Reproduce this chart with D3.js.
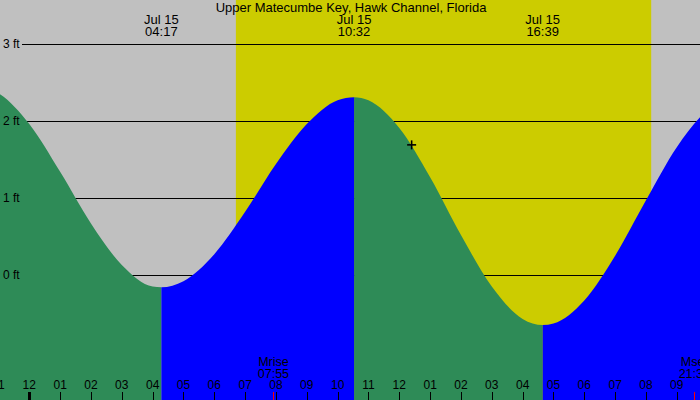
<!DOCTYPE html>
<html><head><meta charset="utf-8">
<script src="https://cdn.jsdelivr.net/npm/d3@7"></script>
<style>
html,body{margin:0;padding:0;background:#fff;}
svg{display:block;font-family:"Liberation Sans",Arial,sans-serif;}
</style></head>
<body><svg id="c" width="700" height="400"></svg>
<script>
// Hours relative to midnight, Jul 15
const title = "Upper Matecumbe Key, Hawk Channel, Florida";
const tideHours = [-1.7, -1, 0, 1, 2, 3, 4, 4.283, 5, 6, 7, 8, 9, 10, 10.533, 11, 12, 13, 14, 15, 16, 16.65, 17, 18, 19, 20, 21, 22, 22.95];
const tideFeet  = [2.45, 2.36, 1.96, 1.34, 0.67, 0.13, -0.15, -0.16, -0.08, 0.27, 0.82, 1.44, 1.96, 2.27, 2.31, 2.27, 1.91, 1.27, 0.52, -0.15, -0.57, -0.65, -0.63, -0.33, 0.25, 0.97, 1.66, 2.14, 2.30];
const extremeHours = [4.283, 10.533, 16.65];
const extremeDates = ["Jul 15", "Jul 15", "Jul 15"];
const extremeLabels = ["04:17", "10:32", "16:39"];
const fallingSpans = [[-2, 4.283], [10.533, 16.65]];
const risingSpans = [[4.283, 10.533], [16.65, 23]];
const sunrise = 6.70, sunset = 20.17;
const moonHours = [7.917, 21.567];
const moonNames = ["Mrise", "Mset"];
const moonLabels = ["07:55", "21:34"];
const hourTicks = d3.range(-1, 22);
const feetTicks = [0, 1, 2, 3];
const feetLabels = ["0 ft", "1 ft", "2 ft", "3 ft"];
const nowHour = 12.4, nowFeet = 1.69;

const W = 700, H = 400;
const svg = d3.select("#c");
const x = d3.scaleLinear().domain([0, 12]).range([29.3, 399.3]);
const y = d3.scaleLinear().domain([0, 3]).range([275, 44]);

// background night / day
svg.append("rect").attr("width", W).attr("height", H).attr("fill", "#c0c0c0");
svg.append("rect").attr("x", x(sunrise)).attr("y", 0)
  .attr("width", x(sunset) - x(sunrise)).attr("height", H).attr("fill", "#cccc00");

// grid lines
svg.append("g").selectAll("line").data(feetTicks).join("line")
  .attr("x1", 22).attr("x2", W).attr("y1", d => y(d)).attr("y2", d => y(d))
  .attr("stroke", "#000").attr("stroke-width", 1).attr("shape-rendering", "crispEdges");

const data = tideHours.map((h, i) => ({h, f: tideFeet[i]}));
const area = d3.area().x(d => x(d.h)).y0(H).y1(d => y(d.f)).curve(d3.curveMonotoneX);

const defs = svg.append("defs");
function drawSpans(spans, color, id) {
  spans.forEach((s, i) => {
    const cid = id + i;
    defs.append("clipPath").attr("id", cid).append("rect")
      .attr("x", x(s[0])).attr("y", 0).attr("width", x(s[1]) - x(s[0])).attr("height", H);
    svg.append("path").datum(data).attr("d", area).attr("fill", color)
      .attr("clip-path", `url(#${cid})`);
  });
}
drawSpans(fallingSpans, "#2e8b57", "fall");
drawSpans(risingSpans, "#0000ff", "rise");

// y labels
svg.append("g").selectAll("text").data(feetTicks).join("text")
  .attr("x", 3).attr("y", d => y(d) + 4).attr("font-size", 12).attr("fill", "#000")
  .text((d, i) => feetLabels[i]);

// title
svg.append("text").attr("x", 351).attr("y", 12).attr("text-anchor", "middle")
  .attr("font-size", 13).attr("fill", "#000").text(title);

// extreme labels
const ex = svg.append("g").selectAll("g").data(extremeHours).join("g");
ex.append("text").attr("x", d => x(d)).attr("y", 24).attr("text-anchor", "middle")
  .attr("font-size", 13).text((d, i) => extremeDates[i]);
ex.append("text").attr("x", d => x(d)).attr("y", 36).attr("text-anchor", "middle")
  .attr("font-size", 13).text((d, i) => extremeLabels[i]);

// hour axis
const fmtHour = h => { let v = ((h % 12) + 12) % 12; if (v === 0) v = 12; return d3.format("02d")(v); };
const ax = svg.append("g");
ax.selectAll("line").data(hourTicks).join("line")
  .attr("x1", d => Math.round(x(d)) + 0.5).attr("x2", d => Math.round(x(d)) + 0.5)
  .attr("y1", 392).attr("y2", H)
  .attr("stroke", "#000").attr("stroke-width", d => d === 0 ? 3 : 1);
ax.selectAll("text").data(hourTicks).join("text")
  .attr("x", d => x(d)).attr("y", 389).attr("text-anchor", "middle")
  .attr("font-size", 12).text(d => fmtHour(d));

// moon
const mg = svg.append("g").selectAll("g").data(moonHours).join("g");
mg.append("line").attr("x1", d => Math.round(x(d)) + 0.5).attr("x2", d => Math.round(x(d)) + 0.5)
  .attr("y1", 392).attr("y2", H).attr("stroke", "#ff0000").attr("stroke-width", 1);
mg.append("text").attr("x", d => x(d)).attr("y", 366).attr("text-anchor", "middle")
  .attr("font-size", 12.5).text((d, i) => moonNames[i]);
mg.append("text").attr("x", d => x(d)).attr("y", 378).attr("text-anchor", "middle")
  .attr("font-size", 12.5).text((d, i) => moonLabels[i]);

// current time marker
const nx = x(nowHour), ny = y(nowFeet);
svg.append("line").attr("x1", nx - 4.5).attr("x2", nx + 4.5).attr("y1", ny).attr("y2", ny)
  .attr("stroke", "#000").attr("stroke-width", 1.6);
svg.append("line").attr("x1", nx).attr("x2", nx).attr("y1", ny - 4.5).attr("y2", ny + 4.5)
  .attr("stroke", "#000").attr("stroke-width", 1.6);
</script></body></html>
